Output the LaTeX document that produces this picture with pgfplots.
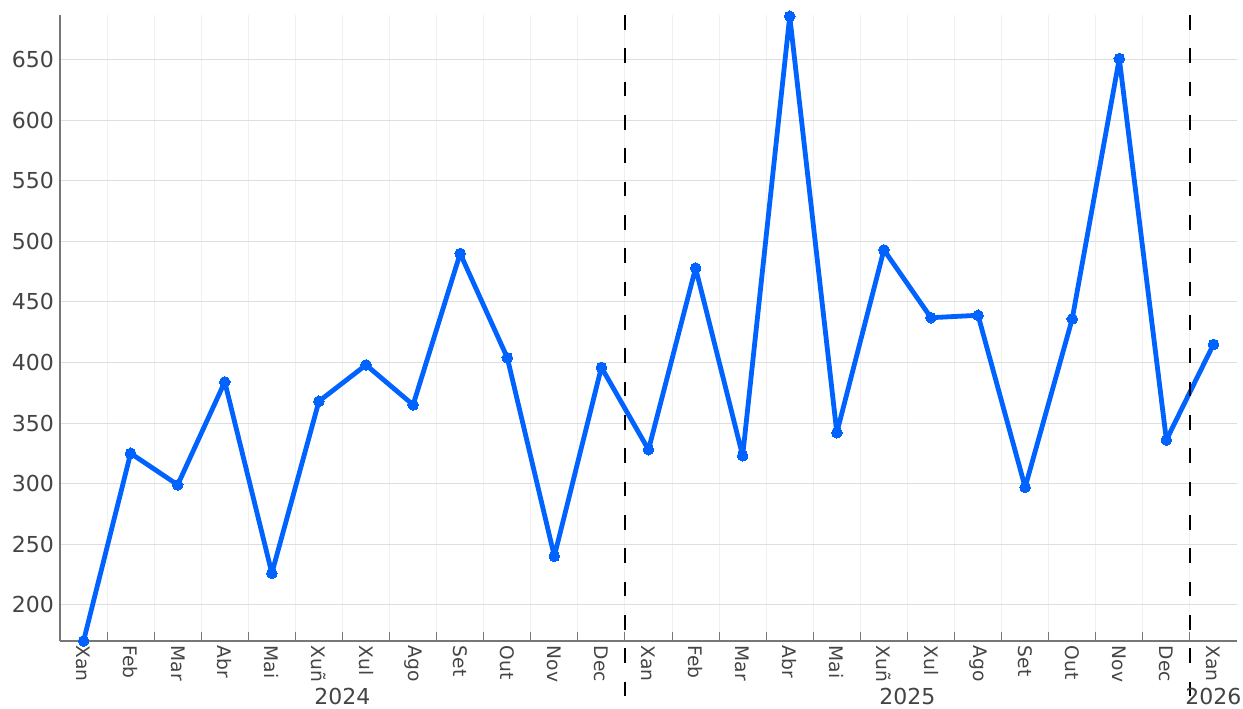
\documentclass[border=0pt]{standalone}
\usepackage{pgfplots}
\pgfplotsset{compat=1.18}
\usepackage{fontspec}
\setmainfont{DejaVu Sans}
\definecolor{lineblue}{HTML}{0062FF}
\definecolor{txt}{HTML}{444444}
\definecolor{axgray}{HTML}{777777}
\begin{document}
\begin{tikzpicture}
\path[use as bounding box] (0,0) rectangle (932.25pt,531pt);
\begin{axis}[
  at={(45pt,50.25pt)}, anchor=south west,
  scale only axis, width=882.75pt, height=469.5pt,
  xmin=-0.5, xmax=24.5, ymin=170, ymax=687,
  axis lines*=left,
  axis line style={axgray, line width=0.9pt},
  xtick={0,...,24},
  xticklabels={Xan,Feb,Mar,Abr,Mai,Xuñ,Xul,Ago,Set,Out,Nov,Dec,Xan,Feb,Mar,Abr,Mai,Xuñ,Xul,Ago,Set,Out,Nov,Dec,Xan},
  minor xtick={0.5,1.5,...,23.5},
  major x tick style={draw=none},
  minor x tick style={axgray, line width=0.8pt},
  minor tick length=7pt,
  ytick={200,250,...,650},
  y tick style={draw=none},
  ymajorgrids, xminorgrids,
  major grid style={draw=black!13, line width=0.7pt},
  minor grid style={draw=black!6, line width=0.7pt},
  /pgf/number format/assume math mode=true,
  /pgf/number format/1000 sep={},
  yticklabel style={font=\fontsize{16.5}{19}\selectfont, text=txt, xshift=-1pt},
  xticklabel style={font=\fontsize{14}{16}\selectfont, text=txt, rotate=-90, anchor=west, xshift=0pt},
  clip=false,
]
\addplot[lineblue, line width=3.6pt, line join=round, line cap=round, mark=*, mark size=4pt, mark options={line width=0pt, fill=lineblue, draw=lineblue}] coordinates {
(0,170) (1,325) (2,299) (3,384) (4,226) (5,368) (6,398) (7,365) (8,490) (9,404) (10,240) (11,396)
(12,328) (13,478) (14,323) (15,686) (16,342) (17,493) (18,437) (19,439) (20,297) (21,436) (22,651) (23,336)
(24,415)};
\draw[black, line width=1.4pt, dash pattern=on 11pt off 14pt] (axis cs:11.5,687) -- (axis cs:11.5,117);
\draw[black, line width=1.4pt, dash pattern=on 11pt off 14pt] (axis cs:23.5,687) -- (axis cs:23.5,117);
\node[font=\fontsize{16.5}{19}\selectfont, text=txt] at (axis cs:5.5,124) {2024};
\node[font=\fontsize{16.5}{19}\selectfont, text=txt] at (axis cs:17.5,124) {2025};
\node[font=\fontsize{16.5}{19}\selectfont, text=txt] at (axis cs:24,124) {2026};
\end{axis}
\end{tikzpicture}
\end{document}
